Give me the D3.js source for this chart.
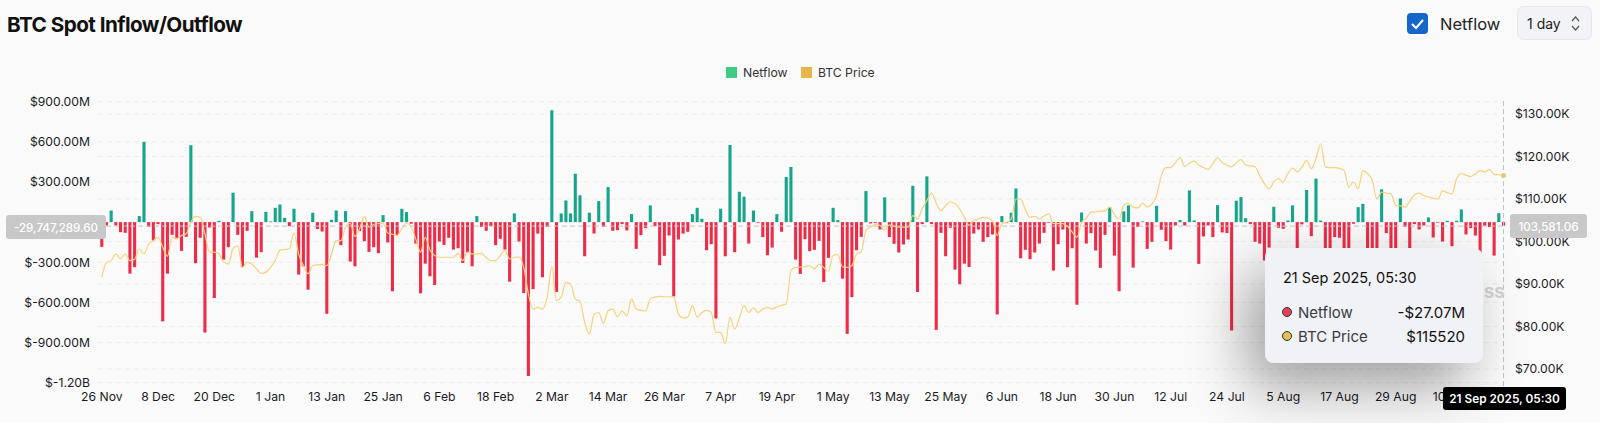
<!DOCTYPE html>
<html>
<head>
<meta charset="utf-8">
<script src="https://cdn.jsdelivr.net/npm/d3@7"></script>
<style>
  html, body { margin: 0; padding: 0; background: #fafafa; }
  svg { display: block; font-family: "Inter", sans-serif; }
  .tick text { font-size: 12.2px; fill: #1b1b1f; font-family: "Inter", sans-serif; }
  .tick line, .domain { display: none; }
</style>
</head>
<body>
<svg id="chart" width="1600" height="423"></svg>
<script>
// Netflow per day in $M, 26 Nov 2024 onward
const netflow = [
  -185, -25, 87, -25, -75, -80, -385, -337, 45, 600,
  -35, -137, -15, -742, -385, -95, -117, -215, -110, 575,
  -307, -117, -825, -40, -567, 10, -280, -187, 220, -95,
  -335, -65, 82, -265, -225, 77, 5, 107, 132, 32,
  -30, 100, -392, -330, -505, 70, -52, -70, -685, 17,
  87, -172, 82, -295, -330, -67, -142, -222, -187, -232,
  52, -152, -517, -95, 100, 75, -12, -160, -532, -310,
  -405, -470, -145, -170, -117, -205, -195, -305, -230, -330,
  45, -35, -65, -30, -172, -125, -205, -445, 65, -145,
  -530, -1150, -500, -85, -412, -35, 836, -522, 65, 162,
  65, 362, 200, -255, 70, -85, 157, -35, 262, -65,
  -60, -15, -62, 60, -200, -97, -45, 125, -30, -322,
  -252, -100, -555, -130, -85, -72, 60, 107, 25, -210,
  -165, -720, 100, -255, 577, -225, 227, 190, -160, 87,
  -5, -112, -247, -190, 60, -72, 337, 412, -280, -387,
  -127, -217, -207, -140, -447, -267, 107, 15, -422, -835,
  -560, -210, -110, 232, -10, -7, -55, 185, -112, -162,
  -227, -167, -130, 272, -522, -15, 342, -15, -805, -80,
  -255, -42, -355, -465, -310, -335, -85, -55, -147, -112,
  -92, -690, 45, -7, 70, 252, -270, -207, -277, -227,
  -160, -80, -5, -362, -165, -55, -337, -195, -617, 72,
  -160, -82, -212, -342, -95, 112, -250, -517, 80, 125,
  -340, -35, 5, -200, -147, 122, -57, -142, -205, -25,
  15, -25, 237, 12, -312, -107, -25, -112, 127, -77,
  -82, -810, 160, 187, 30, -15, -147, -160, -287, -190,
  115, -42, -50, 12, 125, -210, -17, 240, -105, 325,
  12, -250, -230, -112, -117, -240, -220, -12, 112, 137,
  -220, -260, -240, 245, -82, -250, -220, 177, -35, -240,
  -15, -55, -25, 35, -115, -5, -145, 10, -180, 10,
  95, -92, -45, -100, -242, -27, -37, -250, 67, -27
];

// BTC price per day in $K
const btcPrice = [
  91.6, 95.1, 95.5, 97.1, 95.9, 97.1, 95.5, 95.8, 98.3, 97.1,
  99.4, 100.2, 101, 98.7, 96.5, 101, 100.6, 101.4, 101.8, 104.6,
  105.9, 105.7, 101.8, 97.5, 97.5, 97.1, 95.1, 94.7, 98.3, 99,
  93.9, 95.1, 94.7, 93.6, 92.5, 92.8, 93.9, 95.5, 97.9, 98.1,
  98.3, 102, 97, 94.3, 92.4, 94.3, 94.5, 94.6, 94.3, 97,
  100.2, 100.2, 103.4, 104.3, 101.2, 103, 105.9, 103.4, 104, 104.2,
  104.3, 102, 101.7, 101.4, 103, 104.3, 103.4, 100.5, 97.5, 101,
  98, 96.7, 96.3, 96.3, 96.3, 96.3, 97.2, 95.5, 97.5, 97.1,
  97.1, 97.2, 96.2, 95.5, 95.5, 96.7, 97.9, 95.9, 96.2, 96.4,
  93.9, 87.7, 84.1, 84.5, 84.1, 86.9, 94.1, 86.1, 86.9, 90.4,
  90, 86.5, 85.9, 81, 78.2, 82.9, 83.3, 80.8, 83.7, 84.1,
  82.3, 83.7, 82.5, 86.5, 84.1, 83.8, 83.7, 86.5, 86.9, 87.1,
  87, 87, 86.9, 82.9, 82, 82.2, 84.9, 82.2, 83.3, 83.8,
  83.3, 78.6, 78.6, 75.9, 82.2, 79.4, 82, 84.9, 83.3, 84.4,
  83.3, 84.1, 84.5, 84.1, 84.6, 85, 85.3, 93.2, 93.9, 94,
  94.1, 94.3, 93.6, 94.7, 93.9, 93, 96.7, 96.9, 94, 93.9,
  94.3, 97.1, 97.6, 102.6, 103.4, 104, 103.8, 102.6, 103.9, 103.6,
  103.4, 103.4, 103.4, 106.1, 105.3, 107.7, 109.6, 111.4, 109, 107.2,
  108.5, 109.3, 108.9, 107.7, 105.7, 103.8, 105, 105.3, 105.7, 105.5,
  104.8, 101.4, 104.2, 104.5, 105.3, 110, 110, 107.5, 105.7, 105.9,
  105.3, 106, 106.5, 104.2, 104.2, 104.2, 103.5, 102.2, 101, 104.5,
  105.5, 106.9, 107, 107.1, 107.2, 108.1, 106.3, 105.3, 108.6, 109,
  108.1, 107.9, 109, 108.1, 108.8, 110.8, 115.5, 117.4, 117.4, 118.5,
  119.7, 117.7, 118.4, 118.9, 118, 117.4, 117, 118.3, 119.7, 118.6,
  118, 117.6, 118.5, 119.3, 118, 117.8, 117.6, 115.5, 113.6, 112.4,
  114, 114.8, 114, 116, 117.3, 116.4, 117.5, 119.1, 117.1, 119.5,
  123, 117.5, 117.4, 117.4, 117.2, 116.7, 112.8, 114, 112.4, 116.7,
  116, 114.4, 110, 111.6, 111.4, 111.2, 108.5, 108.4, 108.1, 109.5,
  111, 111.4, 110.8, 110.5, 110.2, 110, 111.9, 111.5, 111.2, 114.8,
  116, 115.6, 115.3, 115.9, 116.7, 116.4, 116.9, 115.8, 115.7, 115.52
];

const flowTicks = [900, 600, 300, 0, -300, -600, -900, -1200];
const priceTicks = [70, 80, 90, 100, 110, 120, 130];
const legendItems = ['Netflow', 'BTC Price'];

const days = d3.utcDay.range(new Date(Date.UTC(2024, 10, 26)), new Date(Date.UTC(2025, 8, 22)));

const x = d3.scaleBand().domain(days).range([98.65, 1506.65]).padding(0.34);
const yFlow = d3.scaleLinear().domain([-1200, 900]).range([382.7, 101.7]);
const yPrice = d3.scaleLinear().domain([70, 130]).range([369, 114]);

const svg = d3.select('#chart');

const defs = svg.append('defs');
const shadow = defs.append('filter').attr('id', 'tipShadow')
  .attr('x', '-60%').attr('y', '-60%').attr('width', '220%').attr('height', '220%');
shadow.append('feDropShadow')
  .attr('dx', -18).attr('dy', 24).attr('stdDeviation', 28)
  .attr('flood-color', '#000').attr('flood-opacity', 0.36);

// Header
svg.append('text').attr('x', 7).attr('y', 31.5)
  .attr('font-size', 20.7).attr('font-weight', 700).attr('letter-spacing', -0.55)
  .attr('fill', '#111').text('BTC Spot Inflow/Outflow');

svg.append('rect').attr('x', 1407).attr('y', 13).attr('width', 21).attr('height', 21)
  .attr('rx', 4).attr('fill', '#1566c8');
svg.append('path').attr('d', 'M1412 24l4 4 7-8')
  .attr('fill', 'none').attr('stroke', '#fff').attr('stroke-width', 2);
svg.append('text').attr('x', 1440).attr('y', 29.5).attr('font-size', 16.5)
  .attr('fill', '#222').text('Netflow');

svg.append('rect').attr('x', 1517.5).attr('y', 6.5).attr('width', 74).attr('height', 33)
  .attr('rx', 6).attr('fill', '#f1f3f6').attr('stroke', '#e6e8ec');
svg.append('text').attr('x', 1527).attr('y', 28.5).attr('font-size', 14)
  .attr('fill', '#222').text('1 day');
svg.append('path').attr('d', 'M1572 21l3.5-4 3.5 4M1572 26l3.5 4 3.5-4')
  .attr('fill', 'none').attr('stroke', '#555').attr('stroke-width', 1.2);

// Legend
const legendX = [726, 801];
const legendColor = ['#3ecb85', '#e8b548'];
legendItems.forEach((name, i) => {
  svg.append('rect').attr('x', legendX[i]).attr('y', 67).attr('width', 11).attr('height', 11)
    .attr('fill', legendColor[i]);
  svg.append('text').attr('x', legendX[i] + 17).attr('y', 77).attr('font-size', 12.2)
    .attr('fill', '#333').text(name);
});

// Grid
svg.append('g').selectAll('line')
  .data([...flowTicks.map(d => yFlow(d)), ...priceTicks.map(d => yPrice(d))])
  .join('line')
  .attr('x1', 98).attr('x2', 1504)
  .attr('y1', d => d).attr('y2', d => d)
  .attr('stroke', '#ececec').attr('stroke-dasharray', '5 4');

// Axes
const fmtFlow = d => d <= -1000 || d >= 1000 ? `$${(d / 1000).toFixed(2)}B` : `$${d}.00M`;

svg.append('g').attr('transform', 'translate(90,0)')
  .call(d3.axisLeft(yFlow).tickValues(flowTicks.filter(d => d !== 0)).tickFormat(fmtFlow).tickSize(0).tickPadding(0));

svg.append('g').attr('transform', 'translate(1515,0)')
  .call(d3.axisRight(yPrice).tickValues(priceTicks).tickFormat(d => `$${d}.00K`).tickSize(0).tickPadding(0));

svg.append('g').attr('transform', 'translate(0,388)')
  .call(d3.axisBottom(x).tickValues(days.filter((d, i) => i % 12 === 0))
    .tickFormat(d3.utcFormat('%-d %b')).tickSize(0).tickPadding(4));

// Bars
svg.append('g').selectAll('rect')
  .data(netflow)
  .join('rect')
  .attr('x', (d, i) => x(days[i]))
  .attr('width', x.bandwidth())
  .attr('y', d => yFlow(Math.max(d, 0)))
  .attr('height', d => Math.abs(yFlow(d) - yFlow(0)))
  .attr('fill', d => d >= 0 ? '#14a58a' : '#ee2c48');

// Price line
const line = d3.line()
  .x((d, i) => x(days[i]) + x.bandwidth() / 2)
  .y(d => yPrice(d))
  .curve(d3.curveMonotoneX);

svg.append('path').datum(btcPrice)
  .attr('d', line)
  .attr('fill', 'none').attr('stroke', '#f6d27c').attr('stroke-width', 1.2);

// Crosshair
const crossX = x(days[299]) + x.bandwidth() / 2;
const crossY = yFlow(-29.747);

svg.append('line').attr('x1', 98).attr('x2', 1504).attr('y1', crossY).attr('y2', crossY)
  .attr('stroke', '#c4c4c4').attr('stroke-dasharray', '5 3');
svg.append('line').attr('x1', crossX).attr('x2', crossX).attr('y1', 101).attr('y2', 387)
  .attr('stroke', '#c4c4c4').attr('stroke-dasharray', '5 3');
svg.append('circle').attr('cx', crossX).attr('cy', yPrice(115.52)).attr('r', 2.5)
  .attr('fill', '#e8c878');

// Watermark
svg.append('text').attr('x', 1505).attr('y', 298).attr('text-anchor', 'end')
  .attr('font-size', 19).attr('font-weight', 700).attr('fill', '#d4d4d4').text('CoinGlass');

// Tooltip
svg.append('rect').attr('x', 1265).attr('y', 248).attr('width', 218).attr('height', 115)
  .attr('rx', 9).attr('fill', '#f1f2f6').attr('filter', 'url(#tipShadow)');
svg.append('text').attr('x', 1283).attr('y', 283).attr('font-size', 14.5)
  .attr('fill', '#111').text('21 Sep 2025, 05:30');

const tipRows = [
  { y: 312, color: '#e2405c', name: 'Netflow', value: '-$27.07M' },
  { y: 336, color: '#e0c04f', name: 'BTC Price', value: '$115520' }
];
tipRows.forEach(r => {
  svg.append('circle').attr('cx', 1287).attr('cy', r.y).attr('r', 4.5)
    .attr('fill', r.color).attr('stroke', '#333').attr('stroke-width', 1);
  svg.append('text').attr('x', 1298).attr('y', r.y + 5.5).attr('font-size', 15)
    .attr('fill', '#3a3a44').text(r.name);
  svg.append('text').attr('x', 1465).attr('y', r.y + 5.5).attr('text-anchor', 'end').attr('font-size', 15)
    .attr('fill', '#111').text(r.value);
});

// Axis pointer labels
function pill(x0, y0, w, h, fill, color, label, weight, size) {
  svg.append('rect').attr('x', x0).attr('y', y0).attr('width', w).attr('height', h)
    .attr('rx', 3).attr('fill', fill);
  svg.append('text').attr('x', x0 + w / 2).attr('y', y0 + h / 2 + 4.5).attr('text-anchor', 'middle')
    .attr('font-size', size).attr('font-weight', weight).attr('fill', color).text(label);
}
pill(6, 215, 100, 24, '#c8c8c8', '#fff', '-29,747,289.60', 500, 11.6);
pill(1510, 214, 77, 24, '#c8c8c8', '#fff', '103,581.06', 500, 11.6);
pill(1443, 387, 123, 23, '#000', '#fff', '21 Sep 2025, 05:30', 600, 11.8);
</script>
</body>
</html>
